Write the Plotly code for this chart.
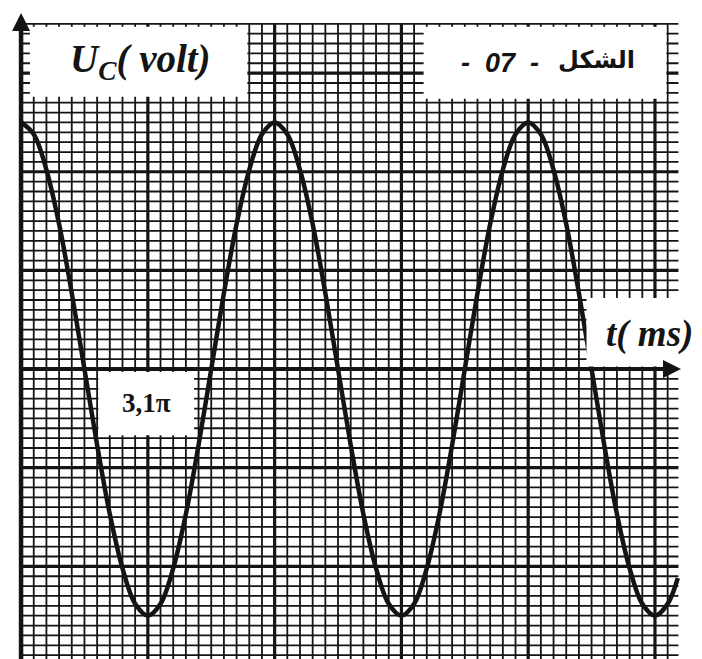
import plotly.graph_objects as go

# --- data (1 unit = 1 small square of the graph paper)
t_ms = [0, 1, 2, 3, 4, 5, 6, 7, 8, 9,
        10, 11, 12, 13, 14, 15, 16, 17, 18, 19,
        20, 21, 22, 23, 24, 25, 26, 27, 28, 29,
        30, 31, 32, 33, 34, 35, 36, 37, 38, 39,
        40, 41, 42, 43, 44, 45, 46, 47, 48, 49,
        50, 51, 51.8]
u_c = [25.0, 23.8, 20.2, 14.7, 7.7, 0.0, -7.7, -14.7, -20.2, -23.8,
       -25.0, -23.8, -20.2, -14.7, -7.7, 0.0, 7.7, 14.7, 20.2, 23.8,
       25.0, 23.8, 20.2, 14.7, 7.7, 0.0, -7.7, -14.7, -20.2, -23.8,
       -25.0, -23.8, -20.2, -14.7, -7.7, 0.0, 7.7, 14.7, 20.2, 23.8,
       25.0, 23.8, 20.2, 14.7, 7.7, 0.0, -7.7, -14.7, -20.2, -23.8,
       -25.0, -23.8, -21.2]

grid_cols = list(range(0, 52))      # vertical paper lines
grid_rows = list(range(-30, 36))    # horizontal paper lines
major_every = 10

label_y = "<b><i>U<sub>C</sub>( volt)</i></b>"
label_x = "<b><i>t( ms)</i></b>"
label_fig = "<b><i>-\u00a0\u00a007\u00a0\u00a0-</i></b>"
label_fig_ar = "<b>الشكل</b>"
label_point = "<b>3,1π</b>"

INK = "#141414"


def segs_v(xs, y0, y1):
    px, py = [], []
    for x in xs:
        px += [x, x, None]
        py += [y0, y1, None]
    return px, py


def segs_h(ys, x0, x1):
    px, py = [], []
    for y in ys:
        px += [x0, x1, None]
        py += [y, y, None]
    return px, py


fig = go.Figure()

# --- 1. graph paper
minor_c = [c for c in grid_cols if c % major_every]
major_c = [c for c in grid_cols if c % major_every == 0 and c != 0]
minor_r = [r for r in grid_rows if r % major_every]
major_r = [r for r in grid_rows if r % major_every == 0 and r != 0]

for xs, ys, w in [
    (*segs_v(minor_c, -31, 35), 1.8),
    (*segs_h(minor_r, 0, 51.85), 1.8),
    (*segs_v(major_c, -31, 35), 3.2),
    (*segs_h(major_r, 0, 51.85), 3.2),
]:
    fig.add_trace(go.Scatter(x=xs, y=ys, mode="lines", hoverinfo="skip",
                             line=dict(color=INK, width=w), showlegend=False))

# axes
fig.add_trace(go.Scatter(x=[0, 0], y=[-31, 35.5], mode="lines",
                         line=dict(color=INK, width=4.5), showlegend=False))
fig.add_trace(go.Scatter(x=[0, 51.6], y=[0, 0], mode="lines",
                         line=dict(color=INK, width=4), showlegend=False))

# --- 2. the signal
fig.add_trace(go.Scatter(x=t_ms, y=u_c, mode="lines",
                         line=dict(color=INK, width=4.5, shape="spline"),
                         showlegend=False))

# --- 3. white label boxes on top of the paper
boxes = [(0.7, 17.85, 27.6, 34.7),
         (31.75, 50.9, 27.4, 34.7),
         (6.1, 13.65, -6.7, -0.3),
         (44.6, 56.0, 0.25, 7.2)]
for x0, x1, y0, y1 in boxes:
    fig.add_shape(type="rect", x0=x0, x1=x1, y0=y0, y1=y1, layer="above",
                  line=dict(width=0), fillcolor="white")

# --- 4. texts and arrows
serif = "Liberation Serif"
fig.add_annotation(x=9.4, y=31.2, text=label_y, showarrow=False,
                   font=dict(family=serif, size=39, color=INK))
fig.add_annotation(x=37.8, y=31.0, text=label_fig, showarrow=False,
                   font=dict(family="Liberation Sans", size=27, color=INK))
fig.add_annotation(x=45.4, y=31.3, text=label_fig_ar, showarrow=False,
                   font=dict(family="DejaVu Sans", size=24, color=INK))
fig.add_annotation(x=9.9, y=-3.4, text=label_point, showarrow=False,
                   font=dict(family=serif, size=27, color=INK))
fig.add_annotation(x=49.6, y=3.6, text=label_x, showarrow=False,
                   font=dict(family=serif, size=37, color=INK))

fig.add_annotation(x=52.05, y=0, ax=50.5, ay=0, axref="x", ayref="y",
                   text="", showarrow=True, arrowhead=2, arrowsize=0.9,
                   arrowwidth=4, arrowcolor=INK)
fig.add_annotation(x=0, y=36.1, ax=0, ay=34.5, axref="x", ayref="y",
                   text="", showarrow=True, arrowhead=2, arrowsize=0.8,
                   arrowwidth=4.5, arrowcolor=INK)

# --- 5. style
fig.update_layout(width=702, height=659, margin=dict(t=0, r=0, l=0, b=0),
                  paper_bgcolor="white", plot_bgcolor="white",
                  showlegend=False)
fig.update_xaxes(range=[-1.03, 54.34], visible=False, showgrid=False,
                 zeroline=False)
fig.update_yaxes(range=[-30.2, 36.6], visible=False, showgrid=False,
                 zeroline=False)

fig.write_html("out.html")
